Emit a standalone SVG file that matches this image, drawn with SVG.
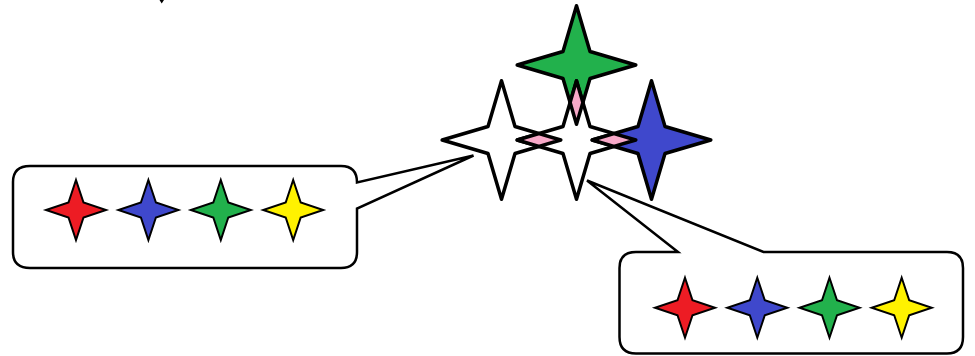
<svg xmlns="http://www.w3.org/2000/svg" xmlns:xlink="http://www.w3.org/1999/xlink" width="975" height="356" viewBox="0 0 975 356">
<style>
.big{stroke:#000;stroke-width:3.5;stroke-linejoin:round}
.sm{stroke:#000;stroke-width:2;stroke-linejoin:miter}
.pink{fill:#f7a8c8;stroke:#000;stroke-width:3.5;stroke-linejoin:round}
.callout{fill:#fff;stroke:#000;stroke-width:2.5;stroke-linejoin:miter}
.w{fill:#fff}.g{fill:#22b14c}.b{fill:#3f48cc}.r{fill:#ed1c24}.y{fill:#fff200}
</style>
<defs>
<path id="bigstar" d="M0,-59.3 L13.5,-13.5 L59.3,0 L13.5,13.5 L0,59.3 L-13.5,13.5 L-59.3,0 L-13.5,-13.5 Z"/>
<path id="smstar" d="M0,-30 L7.5,-7.5 L30,0 L7.5,7.5 L0,30 L-7.5,7.5 L-30,0 L-7.5,-7.5 Z"/>
</defs>
<rect width="975" height="356" fill="#fff"/>
<g id="mark"><path d="M159.5,0 L164,0 L161.7,3.5 Z" fill="#000"/></g>
<g id="connectors">
<path id="callout-left" class="callout" d="M30,166 L341,166 Q357,166 357,182.5 L473.5,155.5 L357,208.5 L357,252 Q357,268 341,268 L30,268 Q13,268 13,252 L13,182 Q13,166 30,166 Z"/>
<path id="callout-right" class="callout" d="M636,252 L678,252 L587,180.5 L763.5,252 L947,252 Q963,252 963,268 L963,337 Q963,353.5 947,353.5 L636,353.5 Q619.5,353.5 619.5,337 L619.5,268 Q619.5,252 636,252 Z"/>
</g>
<g id="star-green"><use xlink:href="#bigstar" href="#bigstar" class="big g" transform="translate(576.5,65)"/></g>
<g id="star-left"><use xlink:href="#bigstar" href="#bigstar" class="big w" transform="translate(501.5,140)"/></g>
<g id="star-middle"><use xlink:href="#bigstar" href="#bigstar" class="big w" transform="translate(576.5,140)"/></g>
<g id="star-blue"><use xlink:href="#bigstar" href="#bigstar" class="big b" transform="translate(651.5,140)"/></g>
<g id="overlaps">
<path class="pink" d="M517.2,140 L539,133.6 L560.8,140 L539,146.4 Z"/>
<path class="pink" d="M592.2,140 L614,133.6 L635.8,140 L614,146.4 Z"/>
<path class="pink" d="M576.5,80.7 L582.9,102.5 L576.5,124.3 L570.1,102.5 Z"/>
</g>
<g id="legend-left">
<use href="#smstar" xlink:href="#smstar" class="sm r" transform="translate(76,210)"/>
<use href="#smstar" xlink:href="#smstar" class="sm b" transform="translate(148.4,210)"/>
<use href="#smstar" xlink:href="#smstar" class="sm g" transform="translate(220.8,210)"/>
<use href="#smstar" xlink:href="#smstar" class="sm y" transform="translate(293.2,210)"/>
</g>
<g id="legend-right">
<use href="#smstar" xlink:href="#smstar" class="sm r" transform="translate(685,307.7)"/>
<use href="#smstar" xlink:href="#smstar" class="sm b" transform="translate(757.3,307.7)"/>
<use href="#smstar" xlink:href="#smstar" class="sm g" transform="translate(829.5,307.7)"/>
<use href="#smstar" xlink:href="#smstar" class="sm y" transform="translate(901.7,307.7)"/>
</g>
</svg>
